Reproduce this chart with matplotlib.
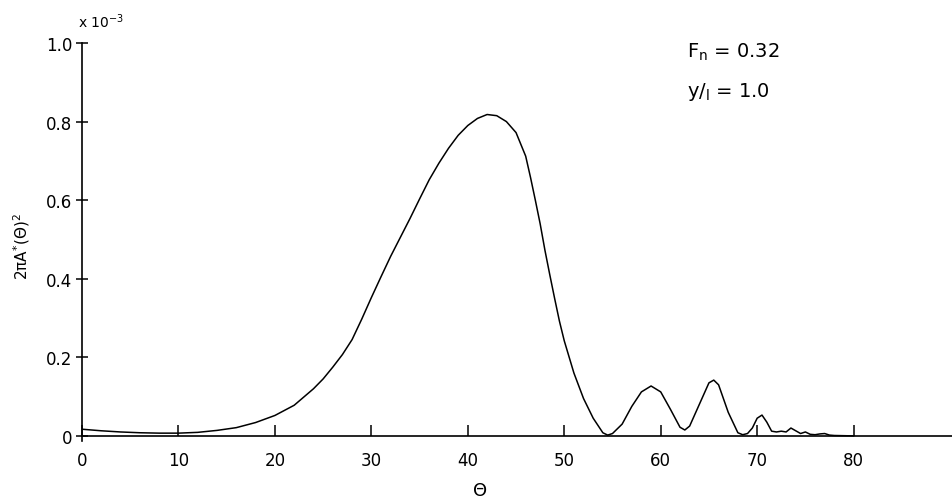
import numpy as np
import matplotlib
matplotlib.use('Agg')
import matplotlib.pyplot as plt

plt.rcParams['font.family'] = 'DejaVu Sans'
plt.rcParams['mathtext.fontset'] = 'dejavusans'

# values (y in units of 1e-3)
theta = [0, 2, 4, 6, 8, 10, 12, 14, 16, 18, 20, 22, 24, 25, 26, 27, 28, 29, 30,
         31, 32, 33, 34, 35, 36, 37, 38, 39, 40, 41, 42, 43, 44, 45, 46, 46.5, 47,
         47.5, 48, 48.5, 49, 49.5, 50, 51, 52, 53, 54, 54.5, 55, 56,
         57, 58, 59, 60, 61, 62, 62.5, 63, 64, 65, 65.5, 66, 67, 68, 68.5, 69, 69.5,
         70, 70.5, 71, 71.5, 72, 72.5, 73, 73.5, 74, 74.5, 75, 75.5, 76, 76.5, 77,
         77.5, 78, 80]
amp = [0.017, 0.013, 0.010, 0.008, 0.007, 0.007, 0.009, 0.014, 0.021, 0.034,
       0.052, 0.078, 0.120, 0.145, 0.175, 0.207, 0.245, 0.297, 0.352,
       0.405, 0.457, 0.505, 0.553, 0.603, 0.652, 0.694, 0.732, 0.765, 0.790,
       0.808, 0.818, 0.815, 0.800, 0.772, 0.712, 0.658, 0.600,
       0.540, 0.472, 0.410, 0.350, 0.292, 0.242, 0.160, 0.095, 0.045, 0.008,
       0.002, 0.006, 0.030, 0.075, 0.112,
       0.127, 0.112, 0.068, 0.022, 0.015, 0.025, 0.080, 0.135, 0.142, 0.130,
       0.060, 0.008, 0.003, 0.006, 0.020, 0.045, 0.053, 0.035, 0.012, 0.010,
       0.012, 0.010, 0.020, 0.013, 0.006, 0.010, 0.004, 0.003, 0.005, 0.006,
       0.002, 0.001, 0.0]

xticks = [0, 10, 20, 30, 40, 50, 60, 70, 80]
yticks = [0, 0.2, 0.4, 0.6, 0.8, 1.0]
ytick_labels = ['0', '0.2', '0.4', '0.6', '0.8', '1.0']

W, H = 952, 502
fig = plt.figure(figsize=(W / 100, H / 100), dpi=100)
ax = fig.add_axes([82 / W, 1 - 442 / H, 870 / W, 398 / H])

ax.plot(theta, amp, color='black', linewidth=1.1)

ax.set_xlim(0, 90.2)
ax.set_ylim(-0.013, 1.0)
ax.spines['top'].set_visible(False)
ax.spines['right'].set_visible(False)
ax.spines['bottom'].set_position(('data', 0))
ax.spines['left'].set_linewidth(1.2)
ax.spines['bottom'].set_linewidth(1.2)

ax.set_xticks(xticks)
ax.set_yticks(yticks)
ax.set_yticklabels(ytick_labels)
ax.tick_params(axis='x', direction='in', length=8, width=1.1, pad=11, labelsize=12)
ax.tick_params(axis='y', direction='inout', length=8, width=1.1, pad=3, labelsize=12)

ax.set_xlabel('\u0398', fontsize=13)
ax.xaxis.set_label_coords(0.457, -0.1)
ax.set_ylabel('2\u03c0A$^{*}$(\u0398)$^{2}$', fontsize=11)
ax.yaxis.set_label_coords(-0.058, 0.49)

fig.text(78 / W, 1 - 22 / H, 'x 10$^{-3}$', fontsize=10, va='center', ha='left')
fig.text(687 / W, 1 - 52 / H, 'F$_\\mathregular{n}$ = 0.32', fontsize=14, va='center', ha='left')
fig.text(687 / W, 1 - 92 / H, 'y/$_\\mathregular{l}$ = 1.0', fontsize=14, va='center', ha='left')

fig.savefig('out.png', dpi=100)
